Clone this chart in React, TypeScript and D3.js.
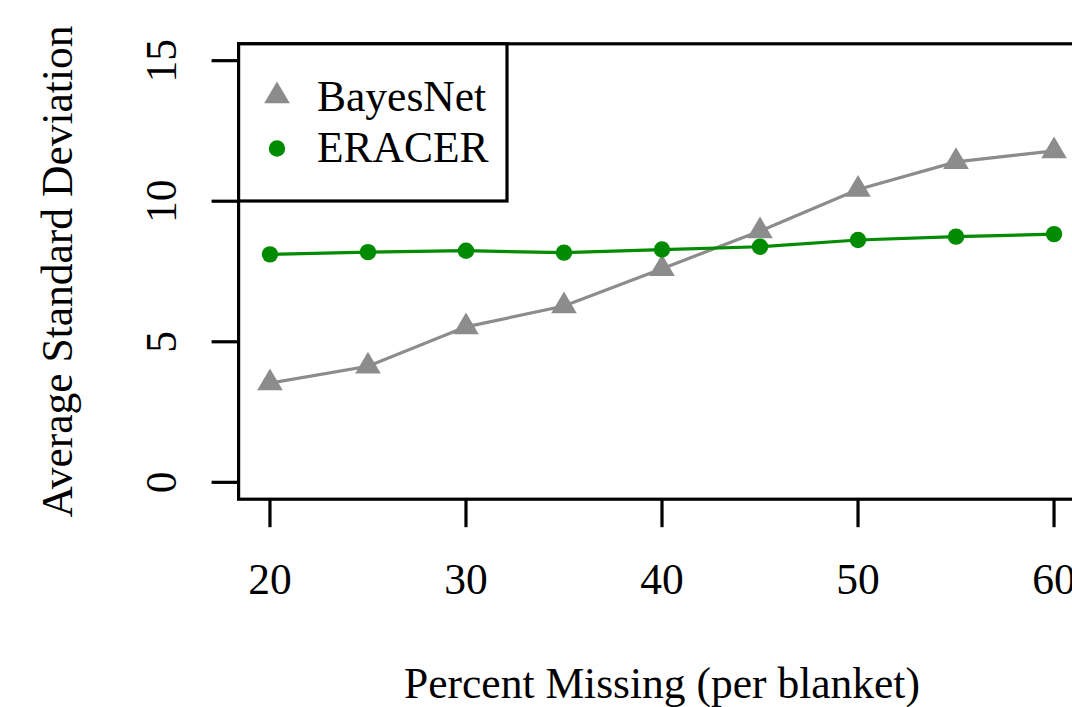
import React, { useRef, useEffect } from 'react';
import * as d3 from 'd3';

const percentMissing = [20, 25, 30, 35, 40, 45, 50, 55, 60];
const bayesNet = [3.53, 4.13, 5.53, 6.27, 7.6, 8.94, 10.42, 11.4, 11.79];
const eracer = [8.11, 8.19, 8.24, 8.17, 8.28, 8.38, 8.62, 8.74, 8.83];
const xTicks = [20, 30, 40, 50, 60];
const yTicks = [0, 5, 10, 15];
const seriesNames = ['BayesNet', 'ERACER'];

const GRAY = '#8c8c8c';
const GREEN = '#008b00';
const FONT = '"Liberation Serif", "Times New Roman", serif';
const FS = 43.5;

const W = 1072;
const H = 707;

export default function App() {
  const svgRef = useRef<SVGSVGElement>(null);

  useEffect(() => {
    const svg = d3.select(svgRef.current);
    svg.selectAll('*').remove();

    // R-style 4% padding around data ranges
    const x = d3.scaleLinear().domain([18.4, 61.6]).range([238.6, 1085.4]);
    const y = d3.scaleLinear().domain([-0.6, 15.6]).range([499.2, 43.8]);

    const left = x(18.4), right = x(61.6), top = y(15.6), bottom = y(-0.6);

    // Lines
    const line = d3.line<number>()
      .x((_, i) => x(percentMissing[i]))
      .y(d => y(d));

    svg.append('path').datum(bayesNet)
      .attr('fill', 'none').attr('stroke', GRAY).attr('stroke-width', 3.2)
      .attr('d', line);
    svg.append('path').datum(eracer)
      .attr('fill', 'none').attr('stroke', GREEN).attr('stroke-width', 3.2)
      .attr('d', line);

    const r = 14.5, xc = 12.8;
    const tri = `M0,${-r}L${xc},${r / 2}L${-xc},${r / 2}Z`;

    svg.append('g').selectAll('path').data(bayesNet).join('path')
      .attr('d', tri).attr('fill', GRAY)
      .attr('transform', (d, i) => `translate(${x(percentMissing[i])},${y(d)})`);

    svg.append('g').selectAll('circle').data(eracer).join('circle')
      .attr('cx', (_, i) => x(percentMissing[i])).attr('cy', d => y(d))
      .attr('r', 8.2).attr('fill', GREEN);

    // Box
    svg.append('rect')
      .attr('x', left).attr('y', top)
      .attr('width', right - left).attr('height', bottom - top)
      .attr('fill', 'none').attr('stroke', '#000').attr('stroke-width', 3.2);

    // X axis ticks + labels
    const xa = svg.append('g');
    xa.selectAll('line').data(xTicks).join('line')
      .attr('x1', d => x(d)).attr('x2', d => x(d))
      .attr('y1', bottom).attr('y2', bottom + 28)
      .attr('stroke', '#000').attr('stroke-width', 3.2);
    xa.selectAll('text').data(xTicks).join('text')
      .attr('x', d => x(d)).attr('y', 594)
      .attr('text-anchor', 'middle')
      .attr('font-family', FONT).attr('font-size', FS)
      .text(d => String(d));

    // Y axis ticks + labels
    const ya = svg.append('g');
    ya.selectAll('line').data(yTicks).join('line')
      .attr('x1', left - 27).attr('x2', left)
      .attr('y1', d => y(d)).attr('y2', d => y(d))
      .attr('stroke', '#000').attr('stroke-width', 3.2);
    ya.selectAll('text').data(yTicks).join('text')
      .attr('transform', d => `translate(176,${y(d)}) rotate(-90)`)
      .attr('text-anchor', 'middle')
      .attr('font-family', FONT).attr('font-size', FS)
      .text(d => String(d));

    // Axis titles
    svg.append('text')
      .attr('x', (left + right) / 2).attr('y', 698)
      .attr('text-anchor', 'middle')
      .attr('font-family', FONT).attr('font-size', FS)
      .text('Percent Missing (per blanket)');

    svg.append('text')
      .attr('transform', `translate(72,${(top + bottom) / 2}) rotate(-90)`)
      .attr('text-anchor', 'middle')
      .attr('font-family', FONT).attr('font-size', FS)
      .text('Average Standard Deviation');

    // Legend
    const lg = svg.append('g');
    lg.append('rect')
      .attr('x', left).attr('y', top)
      .attr('width', 507 - left).attr('height', 201 - top)
      .attr('fill', '#fff').attr('stroke', '#000').attr('stroke-width', 3.2);
    lg.append('path').attr('d', tri).attr('fill', GRAY)
      .attr('transform', 'translate(277,96)');
    lg.append('circle').attr('cx', 277).attr('cy', 148.5).attr('r', 8.2).attr('fill', GREEN);
    seriesNames.forEach((name, i) => {
      lg.append('text')
        .attr('x', 317).attr('y', 111 + i * 51)
        .attr('font-family', FONT).attr('font-size', FS)
        .text(name);
    });
  }, []);

  return (
    <svg
      ref={svgRef}
      width={W}
      height={H}
      style={{ position: 'absolute', left: 0, top: 0, display: 'block', background: '#fff' }}
    />
  );
}
